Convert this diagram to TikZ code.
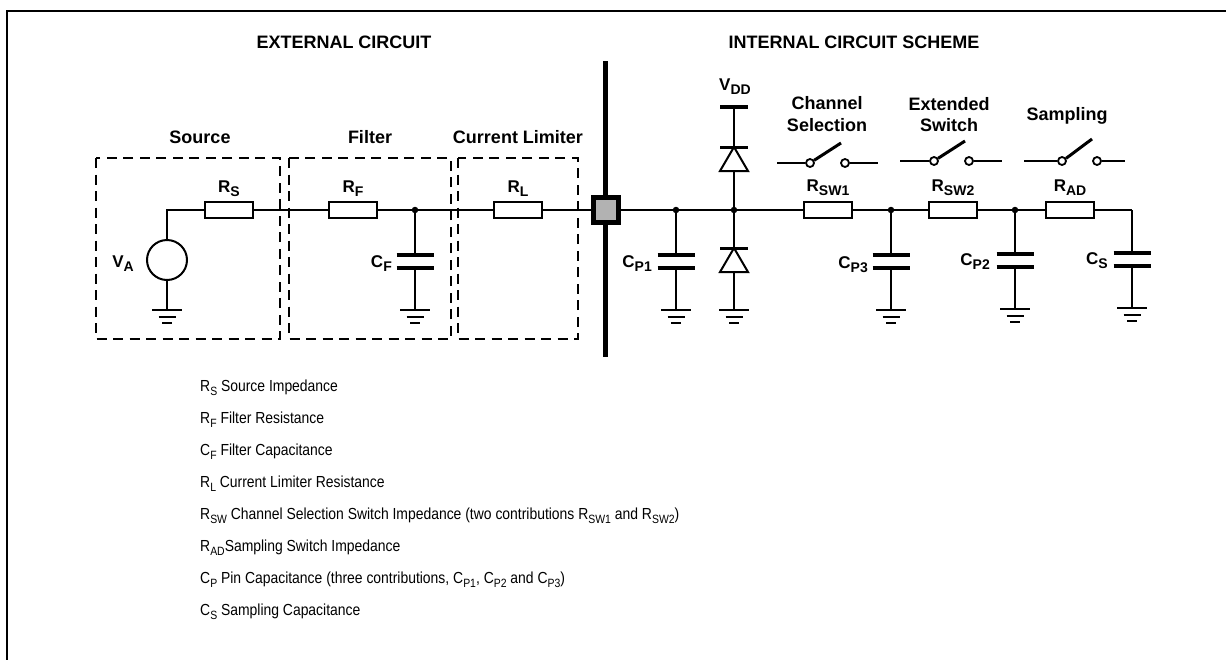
\documentclass[tikz,border=0pt]{standalone}
\usepackage{fontspec}
\setmainfont{Liberation Sans}
\newfontfamily\legfont[FakeStretch=0.87]{Liberation Sans}
\newcommand\bsub[1]{\raisebox{-4.5pt}{\fontsize{14}{14}\selectfont\bfseries #1}}
\newcommand\lsub[1]{\raisebox{-4pt}{\fontsize{12}{12}\selectfont #1}}
\tikzset{
  wire/.style={line width=1.1pt},
  res/.style={draw, line width=2.2pt, minimum width=48pt, minimum height=16pt, inner sep=0pt, fill=white},
  dotn/.style={circle, fill, inner sep=0pt, minimum size=6.5pt},
  dashbox/.style={line width=2.6pt, dash pattern=on 10pt off 6.5pt},
  hd/.style={font=\fontsize{18}{20}\selectfont\bfseries, inner sep=0pt, anchor=base},
  cl/.style={font=\fontsize{17}{20}\selectfont\bfseries, inner sep=0pt},
  lg/.style={font=\legfont\fontsize{16}{18}\selectfont, anchor=base west, inner sep=0pt},
  swc/.style={circle, draw, line width=1.8pt, fill=white, minimum size=8pt, inner sep=0pt},
  lever/.style={line width=3pt},
  gnd/.pic={
    \draw[line width=2.4pt] (-15,0) -- (15,0);
    \draw[line width=2.4pt] (-8.5,7) -- (8.5,7);
    \draw[line width=2.4pt] (-5,13) -- (5,13);
  },
  capa/.pic={
    \draw[line width=4pt] (-18.5,0) -- (18.5,0);
    \draw[line width=4pt] (-18.5,13) -- (18.5,13);
  }
}
\begin{document}
\begin{tikzpicture}[x=1pt,y=-1pt]
\useasboundingbox (0,0) rectangle (1226,659);
% outer frame (cut by page edge)
\draw[line width=2pt] (7,700) -- (7,11) -- (1300,11);

% headings
\node[hd] (hext) at (344,48) {EXTERNAL CIRCUIT};
\node[hd] (hint) at (854,48) {INTERNAL CIRCUIT SCHEME};
\node[hd] (hsrc) at (200,143) {Source};
\node[hd] (hfil) at (370,143) {Filter};
\node[hd] (hcl) at (518,143) {Current Limiter};
\node[hd] (hch1) at (827,109) {Channel};
\node[hd] (hch2) at (827,131) {Selection};
\node[hd] (hex1) at (949,110) {Extended};
\node[hd] (hex2) at (949,131) {Switch};
\node[hd] (hsam) at (1067,120) {Sampling};

% dashed boxes
\draw[dashbox] (96,158) rectangle (280,339);
\draw[dashbox] (289,158) rectangle (451,339);
\draw[dashbox] (458,158) rectangle (578,339);

% pin bar
\draw[line width=5pt] (605.5,61) -- (605.5,357);

% resistors
\node[res] (RS) at (229,210) {};
\node[res] (RF) at (353,210) {};
\node[res] (RL) at (518,210) {};
\node[res] (RSW1) at (828,210) {};
\node[res] (RSW2) at (953,210) {};
\node[res] (RAD) at (1070,210) {};
\node[cl, anchor=base] (lRS) at (229,192) {R\bsub{S}};
\node[cl, anchor=base] (lRF) at (353,192) {R\bsub{F}};
\node[cl, anchor=base] (lRL) at (518,192) {R\bsub{L}};
\node[cl, anchor=base] (lRSW1) at (828,191) {R\bsub{SW1}};
\node[cl, anchor=base] (lRSW2) at (953,191) {R\bsub{SW2}};
\node[cl, anchor=base] (lRAD) at (1070,191) {R\bsub{AD}};

% source
\node[circle, draw, line width=2pt, minimum size=40pt, inner sep=0pt] (VA) at (167,260) {};
\node[cl, anchor=base east] (lVA) at (134,267) {V\bsub{A}};
\coordinate (cA) at (167,210);
\coordinate (gA) at (167,310);
\draw[wire] (VA.north) -- (cA) -- (RS.west);
\draw[wire] (VA.south) -- (gA);
\pic at (gA) {gnd};

% filter
\node[dotn] (dF) at (415,210) {};
\coordinate (cF1) at (415,255);
\coordinate (cF2) at (415,268);
\coordinate (gF) at (415,310);
\draw[wire] (RS.east) -- (RF.west);
\draw[wire] (RF.east) -- (dF) -- (RL.west);
\draw[wire] (dF) -- (cF1);
\draw[wire] (cF2) -- (gF);
\pic at (cF1) {capa};
\pic at (gF) {gnd};
\node[cl, anchor=base east] (lCF) at (392,267) {C\bsub{F}};

% pin
\node[draw, line width=5pt, fill=black!30, minimum size=25pt, inner sep=0pt] (pin) at (605.5,210) {};
\draw[wire] (RL.east) -- (pin.west);

% internal nodes
\node[dotn] (dP1) at (676,210) {};
\node[dotn] (dD) at (734,210) {};
\node[dotn] (dP3) at (891,210) {};
\node[dotn] (dP2) at (1015,210) {};
\coordinate (cS) at (1132,210);
\draw[wire] (pin.east) -- (dP1) -- (dD) -- (RSW1.west);
\draw[wire] (RSW1.east) -- (dP3) -- (RSW2.west);
\draw[wire] (RSW2.east) -- (dP2) -- (RAD.west);
\draw[wire] (RAD.east) -- (cS);

% CP1
\coordinate (cP1a) at (676,255);
\coordinate (cP1b) at (676,268);
\coordinate (gP1) at (676,310);
\draw[wire] (dP1) -- (cP1a);
\draw[wire] (cP1b) -- (gP1);
\pic at (cP1a) {capa};
\pic at (gP1) {gnd};
\node[cl, anchor=base east] (lCP1) at (652,267) {C\bsub{P1}};

% CP3
\coordinate (cP3a) at (891,255);
\coordinate (cP3b) at (891,268);
\coordinate (gP3) at (891,310);
\draw[wire] (dP3) -- (cP3a);
\draw[wire] (cP3b) -- (gP3);
\pic at (cP3a) {capa};
\pic at (gP3) {gnd};
\node[cl, anchor=base east] (lCP3) at (868,268) {C\bsub{P3}};

% CP2
\coordinate (cP2a) at (1015,254);
\coordinate (cP2b) at (1015,267);
\coordinate (gP2) at (1015,309);
\draw[wire] (dP2) -- (cP2a);
\draw[wire] (cP2b) -- (gP2);
\pic at (cP2a) {capa};
\pic at (gP2) {gnd};
\node[cl, anchor=base east] (lCP2) at (990,265) {C\bsub{P2}};

% CS
\coordinate (cSa) at (1132,253);
\coordinate (cSb) at (1132,266);
\coordinate (gS) at (1132,308);
\draw[wire] (cS) -- (cSa);
\draw[wire] (cSb) -- (gS);
\pic at (cSa) {capa};
\pic at (gS) {gnd};
\node[cl, anchor=base east] (lCS) at (1108,264) {C\bsub{S}};

% diodes
\coordinate (vdd) at (734,107);
\coordinate (d1k) at (734,147);
\coordinate (d1a) at (734,171);
\coordinate (d2k) at (734,248);
\coordinate (d2a) at (734,272);
\coordinate (gD) at (734,310);
\draw[line width=4pt] (720,107) -- (748,107);
\node[cl, anchor=base] (lVDD) at (735,90) {V\bsub{DD}};
\draw[wire] (vdd) -- (d1k);
\draw[wire] (d1a) -- (dD);
\draw[wire] (dD) -- (d2k);
\draw[wire] (d2a) -- (gD);
\draw[line width=2pt, fill=white, line join=miter] (d1k) -- (748,171) -- (720,171) -- cycle;
\draw[line width=3pt] (720,147) -- (748,147);
\draw[line width=2pt, fill=white, line join=miter] (d2k) -- (748,272) -- (720,272) -- cycle;
\draw[line width=3pt] (720,248) -- (748,248);
\pic at (gD) {gnd};

% switches
\coordinate (s1l) at (777,163);
\coordinate (s1r) at (878,163);
\coordinate (s1t) at (841,143);
\node[swc] (s1a) at (810,163) {};
\node[swc] (s1b) at (845,163) {};
\draw[wire] (s1l) -- (s1a);
\draw[wire] (s1b) -- (s1r);
\draw[lever] (s1a.33) -- (s1t);

\coordinate (s2l) at (900,161);
\coordinate (s2r) at (1002,161);
\coordinate (s2t) at (965,141);
\node[swc] (s2a) at (934,161) {};
\node[swc] (s2b) at (969,161) {};
\draw[wire] (s2l) -- (s2a);
\draw[wire] (s2b) -- (s2r);
\draw[lever] (s2a.33) -- (s2t);

\coordinate (s3l) at (1024,161);
\coordinate (s3r) at (1125,161);
\coordinate (s3t) at (1092,139);
\node[swc] (s3a) at (1062,161) {};
\node[swc] (s3b) at (1097,161) {};
\draw[wire] (s3l) -- (s3a);
\draw[wire] (s3b) -- (s3r);
\draw[lever] (s3a.33) -- (s3t);

% legend
\node[lg] (g1) at (200,391) {R\lsub{S} Source Impedance};
\node[lg] (g2) at (200,423) {R\lsub{F} Filter Resistance};
\node[lg] (g3) at (200,455) {C\lsub{F} Filter Capacitance};
\node[lg] (g4) at (200,487) {R\lsub{L} Current Limiter Resistance};
\node[lg] (g5) at (200,519) {R\lsub{SW} Channel Selection Switch Impedance (two contributions R\lsub{SW1} and R\lsub{SW2})};
\node[lg] (g6) at (200,551) {R\lsub{AD}Sampling Switch Impedance};
\node[lg] (g7) at (200,583) {C\lsub{P} Pin Capacitance (three contributions, C\lsub{P1}, C\lsub{P2} and C\lsub{P3})};
\node[lg] (g8) at (200,615) {C\lsub{S} Sampling Capacitance};
\end{tikzpicture}
\end{document}
